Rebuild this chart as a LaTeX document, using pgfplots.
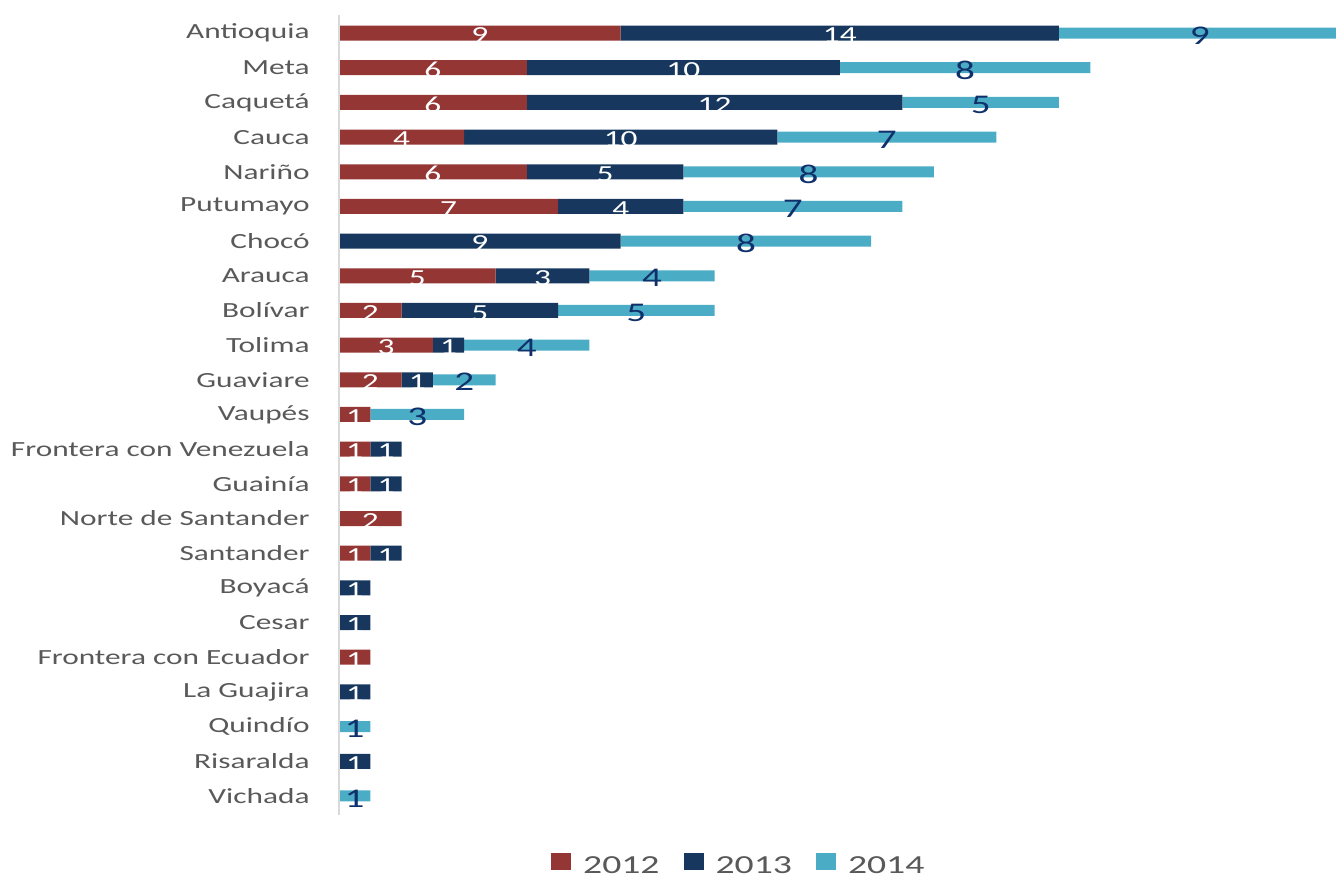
\documentclass[border=0pt]{standalone}
\usepackage{pgfplots}
\pgfplotsset{compat=1.18}
\usepackage{pgfplotstable}
\usepackage{fontspec}
\setmainfont{Carlito}[FakeStretch=1.45]

\definecolor{c2012}{HTML}{943634}
\definecolor{c2013}{HTML}{17375E}
\definecolor{c2014}{HTML}{4BACC6}
\definecolor{lbl}{HTML}{10306B}
\definecolor{txt}{HTML}{595959}

% y = row (0 = top), a = 2012, b = 2013, c = 2014
\pgfplotstableread{
y a b c
0 9 14 9
1 6 10 8
2 6 12 5
3 4 10 7
4 6 5 8
5 7 4 7
6 0 9 8
7 5 3 4
8 2 5 5
9 3 1 4
10 2 1 2
11 1 0 3
12 1 1 0
13 1 1 0
14 2 0 0
15 1 1 0
16 0 1 0
17 0 1 0
18 1 0 0
19 0 1 0
20 0 0 1
21 0 1 0
22 0 0 1
}\data

\begin{document}
\begin{tikzpicture}
\begin{axis}[
  xbar stacked,
  scale only axis,
  width=498.5pt, height=400pt,
  xmin=0, xmax=31.85,
  ymin=-0.52, ymax=22.55,
  y dir=reverse,
  clip=false,
  axis line style={draw=none},
  xtick=\empty,
  ytick={0,...,22},
  yticklabels={Antioquia,Meta,Caquetá,Cauca,Nariño,Putumayo,Chocó,Arauca,Bolívar,Tolima,Guaviare,Vaupés,Frontera con Venezuela,Guainía,Norte de Santander,Santander,Boyacá,Cesar,Frontera con Ecuador,La Guajira,Quindío,Risaralda,Vichada},
  ytick style={draw=none},
  yticklabel style={font=\fontsize{10.8}{12}\selectfont, text=txt, inner sep=0pt, xshift=-14.5pt},
  /pgf/number format/assume math mode=true,
  point meta=rawx,
  nodes near coords={\pgfmathfloatifflags{\pgfplotspointmeta}{0}{}{\pgfmathprintnumber{\pgfplotspointmeta}}},
  every node near coord/.append style={yshift=-1.2pt},
  legend style={at={(0.402,0)}, anchor=center, yshift=-26pt, draw=none,
    font=\fontsize{13}{14}\selectfont, text=txt,
    /tikz/every even column/.append style={column sep=10pt}},
  legend columns=3,
  legend image code/.code={\fill[#1] (0pt,-1.5pt) rectangle (10pt,7pt);},
  legend cell align=left,
]
\draw[color=black!15, line width=1.2pt] (rel axis cs:0,0) -- (rel axis cs:0,1);
\addplot[fill=c2012, draw=none, bar width=7.5pt,
  every node near coord/.append style={text=white, font=\fontsize{11.5}{12}\selectfont}]
  table[x=a, y=y] {\data};
\addplot[fill=c2013, draw=none, bar width=7.5pt,
  every node near coord/.append style={text=white, font=\fontsize{11.5}{12}\selectfont}]
  table[x=b, y=y] {\data};
\addplot[fill=c2014, draw=none, bar width=5.5pt,
  every node near coord/.append style={text=lbl, font=\fontsize{13.5}{14}\selectfont}]
  table[x=c, y=y] {\data};
\addlegendentry{\hspace{4pt}2012}
\addlegendentry{\hspace{4pt}2013}
\addlegendentry{\hspace{4pt}2014}
\end{axis}
\pgfresetboundingbox
\path (-169.5pt,-32.5pt) rectangle (498.5pt,407.5pt);
\end{tikzpicture}
\end{document}
